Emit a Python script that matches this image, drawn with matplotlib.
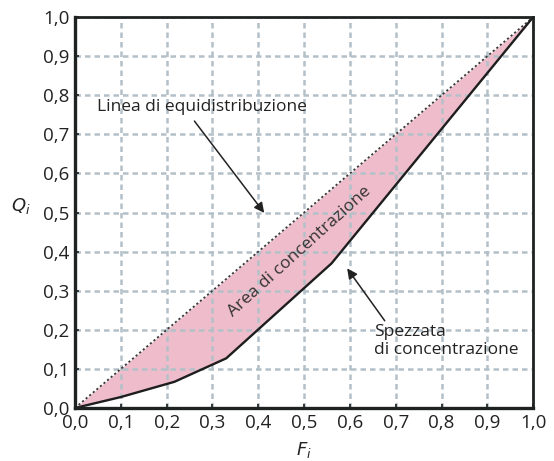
import numpy as np
import matplotlib
matplotlib.use("Agg")
import matplotlib.pyplot as plt
from matplotlib.ticker import FuncFormatter

plt.rcParams['font.family'] = ['Open Sans', 'DejaVu Sans']

# cumulative shares (Lorenz curve points)
F = [0.0, 0.10, 0.217, 0.33, 0.56, 1.0]
Q = [0.0, 0.028, 0.067, 0.127, 0.37, 1.0]
equi = [0.0, 1.0]

ticks = [i / 10 for i in range(11)]

fig = plt.figure(figsize=(5.54, 4.61), dpi=100)
ax = fig.add_axes([0.1354, 0.115, 0.827, 0.848])

# pink area between equidistribution line and Lorenz curve
ax.fill_between(F, np.interp(F, equi, equi), Q, color='#eebccb', lw=0, zorder=1)

ax.grid(True, color='#b3c0c8', linestyle=(0, (2.2, 1.6)), linewidth=1.8, zorder=2)
ax.set_axisbelow(False)

ax.plot(equi, equi, color='#3a3a3a', linestyle=(0, (1.2, 1.4)), linewidth=1.3, zorder=3)
ax.plot(F, Q, color='#1e1e1e', linewidth=1.7, zorder=4)

ax.set_xlim(0, 1)
ax.set_ylim(0, 1)
ax.set_xticks(ticks)
ax.set_yticks(ticks)
fmt = FuncFormatter(lambda v, p: f"{v:.1f}".replace('.', ','))
ax.xaxis.set_major_formatter(fmt)
ax.yaxis.set_major_formatter(fmt)
ax.tick_params(direction='in', length=3, width=1.2, color='#1e1e1e',
               labelsize=13.5, labelcolor='#222222', pad=4)
for side in ['left', 'bottom']:
    ax.spines[side].set_linewidth(2.4)
for side in ['top', 'right']:
    ax.spines[side].set_linewidth(2.0)
for s in ax.spines.values():
    s.set_color('#1e2322')
    s.set_zorder(5)

ax.set_xlabel('$F_i$', fontsize=13, color='#222222', labelpad=6)
ax.set_ylabel('$Q_i$', fontsize=13, color='#222222', rotation=0)
ax.yaxis.set_label_coords(-0.118, 0.49)

ax.annotate('Linea di equidistribuzione', xy=(0.413, 0.499), xytext=(0.278, 0.77),
            ha='center', va='center', fontsize=12.5, color='#222222', zorder=6,
            arrowprops=dict(arrowstyle='-|>', color='#222222', lw=1.1,
                            mutation_scale=15, shrinkA=3, shrinkB=0,
                            relpos=(0.44, 0.0)))

ax.annotate('Spezzata\ndi concentrazione', xy=(0.594, 0.357), xytext=(0.652, 0.172),
            ha='left', va='center', fontsize=12.5, color='#222222', zorder=6,
            linespacing=1.2,
            arrowprops=dict(arrowstyle='-|>', color='#222222', lw=1.1,
                            mutation_scale=15, shrinkA=0, shrinkB=0,
                            relpos=(0.09, 1.0)))

ax.text(0.49, 0.40, 'Area di concentrazione', rotation=42, rotation_mode='anchor',
        ha='center', va='center', fontsize=12.5, color='#333333', zorder=6)

fig.savefig('out.png', dpi=100)
